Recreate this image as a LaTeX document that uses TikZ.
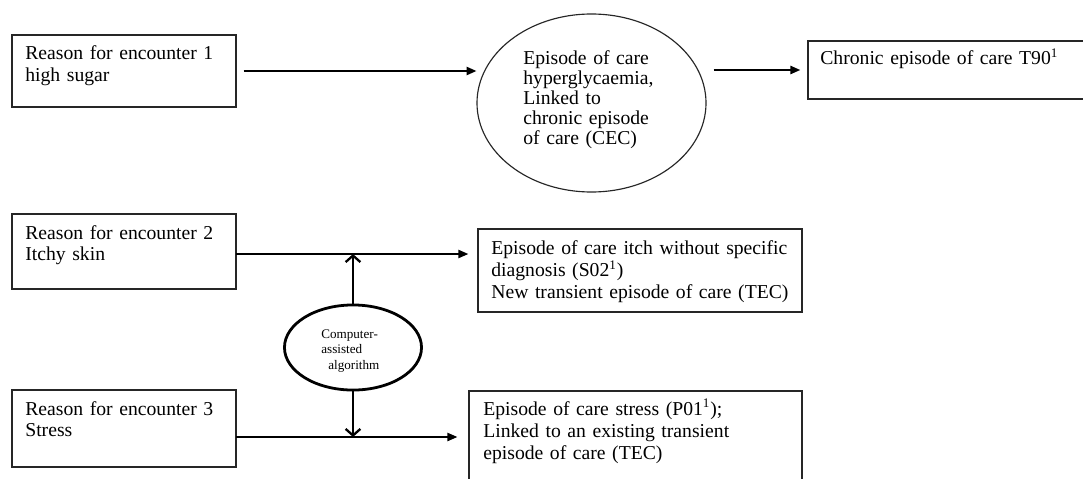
\documentclass[tikz,border=0pt]{standalone}
\usepackage{fontspec}
\setmainfont{Liberation Serif}
\usetikzlibrary{fit,shapes.geometric,arrows.meta}
\tikzset{
  box/.style={draw=black!85, line width=0.85pt, inner sep=0pt},
  txt/.style={anchor=base west, inner sep=0pt, text width=330pt, align=left,
    font=\fontsize{12}{13}\selectfont},
  txtwide/.style={txt, font=\fontsize{12}{13.6}\selectfont},
  arr/.style={line width=1.1pt, -{Triangle[length=6pt,width=5pt]}},
  arrthin/.style={line width=0.9pt, -{Triangle[length=6pt,width=5pt]}},
  vert/.style={line width=0.95pt, -{Straight Barb[length=4pt,width=9pt,line width=1.4pt]}},
}
\begin{document}
\begin{tikzpicture}[x=0.61pt,y=-0.61pt]
\clip (0,0) rectangle (1083,478);
\fill[white] (0,0) rectangle (1083,478);

% row 1
\node[box, fit={(12,35) (236,107)}] (b1) {};
\node[txt] (t1) at (25,60) {Reason for encounter 1\\high sugar};
\node[ellipse, draw=black!85, line width=0.7pt, minimum width=139.7pt, minimum height=108.6pt, inner sep=0pt] (ell) at (591.5,103) {};
\node[txt, font=\fontsize{12}{12.2}\selectfont] (tell) at (523,65) {Episode of care\\hyperglycaemia,\\Linked to\\chronic episode\\of care (CEC)};
\node[box, fit={(808,41) (1095,99)}] (t90) {};
\node[txt] (tt90) at (820,65) {Chronic episode of care T90\textsuperscript{1}};

% row 2
\node[box, fit={(12,214) (236,289)}] (b2) {};
\node[txt] (t2) at (25,239.5) {Reason for encounter 2\\Itchy skin};
\node[box, fit={(478,229) (802,312)}] (s02) {};
\node[txtwide] (ts02) at (491,254) {Episode of care itch without specific\\diagnosis (S02\textsuperscript{1})\\New transient episode of care (TEC)};

% algorithm
\node[ellipse, draw=black, line width=1.7pt, minimum width=83.6pt, minimum height=51.9pt, inner sep=0pt] (alg) at (353,347.5) {};
\node[txt, font=\fontsize{8}{9.6}\selectfont] (talg) at (321,338) {Computer-\\assisted\\\hspace*{4.3pt}algorithm};

% row 3
\node[box, fit={(12,390) (236,467)}] (b3) {};
\node[txt] (t3) at (25,415) {Reason for encounter 3\\Stress};
\node[box, fit={(469,391) (802,495)}] (p01) {};
\node[txtwide] (tp01) at (483,415) {Episode of care stress (P01\textsuperscript{1});\\Linked to an existing transient\\episode of care (TEC)};

% connectors
\coordinate (r2) at (236,254);
\coordinate (r3) at (236,437);
\draw[arr] ([xshift=4.3pt]b1.east) -- (b1.east -| ell.west);
\draw[arr] ([xshift=4.3pt]ell.east |- t90.west) -- ([xshift=-4.3pt]t90.west);
\draw[arrthin] (r2) -- ([xshift=-5.5pt]r2 -| s02.west);
\draw[arrthin] (r3) -- ([xshift=-6.7pt]r3 -| p01.west);
\draw[vert] (alg.north) -- (alg.north |- r2);
\draw[vert] (alg.south) -- (alg.south |- r3);
\end{tikzpicture}
\end{document}
